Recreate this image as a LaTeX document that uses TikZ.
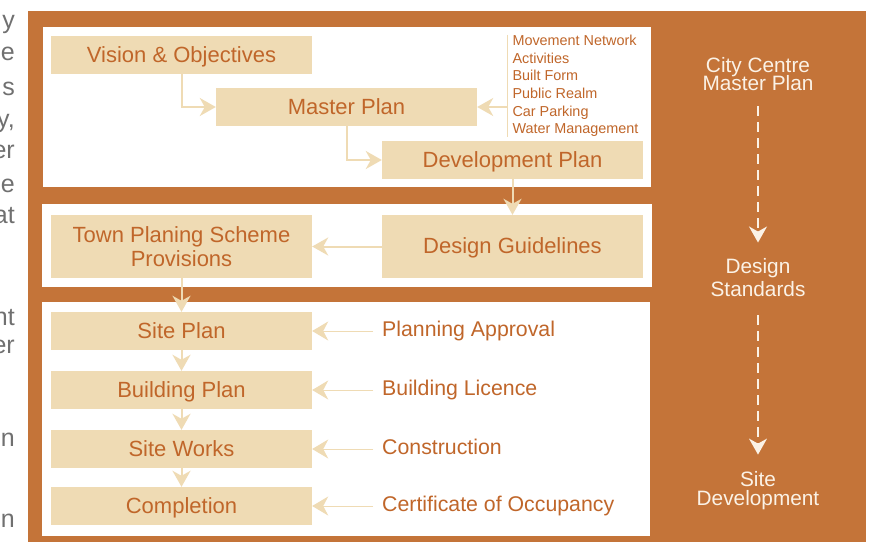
\documentclass[tikz,border=0pt]{standalone}
\usepackage{fontspec}
\setmainfont{Liberation Sans}
\usetikzlibrary{arrows.meta}
\definecolor{bgorange}{RGB}{196,116,57}
\definecolor{beige}{RGB}{239,219,180}
\definecolor{txtorange}{RGB}{192,102,42}
\definecolor{cream}{RGB}{251,242,230}
\definecolor{graytxt}{RGB}{112,112,112}
\newcommand\tightlines{\lineskiplimit=-30pt\relax}
\newcommand\boxfont{\fontsize{22}{23.4}\selectfont\tightlines}
\newcommand\lblfont{\fontsize{21.3}{24}\selectfont}
\newcommand\listfont{\fontsize{14.4}{17.66}\selectfont\tightlines}
\newcommand\fragfont{\fontsize{25}{30}\selectfont}
\begin{document}
\begin{tikzpicture}[x=1pt,y=-1pt,
  flowbox/.style={fill=beige, minimum width=261pt, minimum height=38pt, inner sep=0pt,
    text=txtorange, font=\boxfont, text height=15.5pt, text depth=0.9pt},
  tallbox/.style={fill=beige, minimum width=261pt, minimum height=63pt, inner sep=0pt,
    text=txtorange, font=\boxfont, align=center},
  lbl/.style={text=txtorange, font=\lblfont, inner sep=0pt, anchor=west,
    text height=14.8pt, text depth=3.4pt},
  listtxt/.style={text=txtorange, font=\listfont,
    align=left, inner xsep=4.6pt, inner ysep=0pt, anchor=north west},
  side/.style={text=cream, align=center, inner sep=0pt},
  frag/.style={text=graytxt, font=\fragfont, inner sep=0pt, anchor=base east},
  flow/.style={draw=beige, line width=2pt, -{Stealth[length=16pt,width=18pt,inset=5pt]}},
  thinarrow/.style={draw=beige, line width=1pt, -{Stealth[length=16pt,width=19pt,inset=5pt]}},
  whitearrow/.style={draw=cream, line width=1.6pt, dash pattern=on 10pt off 6pt,
    -{Stealth[length=16pt,width=18pt,inset=5pt]}}
]
\useasboundingbox (0,0) rectangle (881,542);
% left cut-off page text
\node[frag] (g1) at (15,28.3) {y};
\node[frag] (g2) at (15,60) {e};
\node[frag] (g3) at (15,95) {s};
\node[frag] (g4) at (15,127) {y,};
\node[frag] (g5) at (15,158) {er};
\node[frag] (g6) at (15,192) {e};
\node[frag] (g7) at (15,223) {at};
\node[frag] (g8) at (15,325) {nt};
\node[frag] (g9) at (15,353) {er};
\node[frag] (g10) at (15,446) {n};
\node[frag] (g11) at (15,527) {n};
% background and panels
\fill[bgorange] (28,11) rectangle (866,542);
\fill[white] (43,27) rectangle (651,187);
\fill[white] (42,204) rectangle (652,287);
\fill[white] (42,302) rectangle (650,536);
% boxes
\node[flowbox] (vision) at (181.5,55) {Vision \& Objectives};
\node[flowbox] (master) at (346.5,107) {Master Plan};
\node[flowbox] (dev) at (512.5,160) {Development Plan};
\node[tallbox] (town) at (181.5,246.5) {Town Planing Scheme\\Provisions};
\node[flowbox, minimum height=63pt] (design) at (512.5,246.5) {Design Guidelines};
\node[flowbox] (siteplan) at (181.5,331) {Site Plan};
\node[flowbox] (building) at (181.5,390) {Building Plan};
\node[flowbox] (works) at (181.5,449) {Site Works};
\node[flowbox] (completion) at (181.5,506) {Completion};
% list
\node[listtxt] (list) at (507.7,34.8) {Movement Network\\Activities\\Built Form\\Public Realm\\Car Parking\\Water Management};
\draw[beige, line width=1pt] (list.north west) -- (list.south west);
% labels
\node[lbl] (pa) at (382,331) {Planning Approval};
\node[lbl] (bl) at (382,390) {Building Licence};
\node[lbl] (co) at (382,449) {Construction};
\node[lbl] (oc) at (382,506) {Certificate of Occupancy};
% side labels
\node[side, font=\fontsize{20.8}{18.7}\selectfont\tightlines] (cc) at (758,74.2) {City Centre\\Master Plan};
\node[side, font=\fontsize{20.8}{22.7}\selectfont\tightlines] (ds) at (758,277.3) {Design\\Standards};
\node[side, font=\fontsize{20.8}{19}\selectfont\tightlines] (sd) at (758,491) {Site\\Development};
% connectors
\draw[flow] (vision.south) |- (master.west);
\draw[flow] (master.south) |- (dev.west);
\draw[flow, line width=1.5pt] (list.west |- master.east) -- (master.east);
\draw[flow] (dev.south) -- (design.north);
\draw[flow] (design.west) -- (town.east);
\draw[flow] (town.south) -- (siteplan.north);
\draw[flow] (siteplan.south) -- (building.north);
\draw[flow] (building.south) -- (works.north);
\draw[flow] (works.south) -- (completion.north);
\draw[thinarrow, shorten <=9pt] (pa.west) -- (siteplan.east);
\draw[thinarrow, shorten <=9pt] (bl.west) -- (building.east);
\draw[thinarrow, shorten <=9pt] (co.west) -- (works.east);
\draw[thinarrow, shorten <=9pt] (oc.west) -- (completion.east);
\draw[whitearrow, shorten <=15pt, shorten >=15.6pt] (cc.south) -- (ds.north);
\draw[whitearrow, shorten <=19pt, shorten >=17pt] (ds.south) -- (sd.north);
\end{tikzpicture}
\end{document}
